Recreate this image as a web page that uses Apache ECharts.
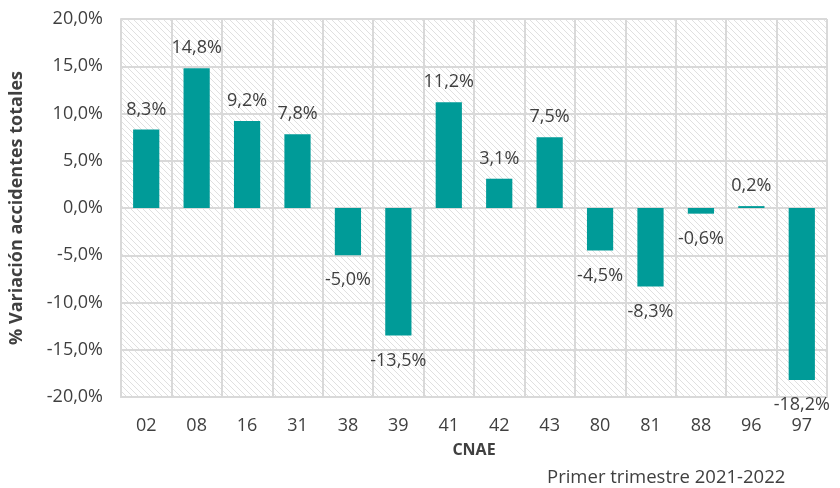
<!DOCTYPE html>
<html>
<head>
<meta charset="utf-8">
<script src="https://cdn.jsdelivr.net/npm/echarts@6/dist/echarts.min.js"></script>
<style>
  html, body { margin: 0; padding: 0; background: #fff; }
  #chart { width: 840px; height: 488px; }
</style>
</head>
<body>
<div id="chart"></div>
<script>
const categories = ['02', '08', '16', '31', '38', '39', '41', '42', '43', '80', '81', '88', '96', '97']
const variacion = [8.3, 14.8, 9.2, 7.8, -5.0, -13.5, 11.2, 3.1, 7.5, -4.5, -8.3, -0.6, 0.2, -18.2]
const yTicks = { min: -20, max: 20, interval: 5 }

const FONT = 'Open Sans'
const TEXT = '#404040'
const fmt = v => v.toFixed(1).replace('.', ',') + '%'

// hatched fill for the plot area
function hatch () {
  const n = 6
  const c = document.createElement('canvas')
  c.width = n
  c.height = n
  const ctx = c.getContext('2d')
  ctx.fillStyle = '#fff'
  ctx.fillRect(0, 0, n, n)
  ctx.strokeStyle = '#e0e0e0'
  ctx.lineWidth = 1
  ctx.beginPath()
  ctx.moveTo(-1, -1); ctx.lineTo(n + 1, n + 1)
  ctx.moveTo(-1, n - 1); ctx.lineTo(1, n + 1)
  ctx.moveTo(n - 1, -1); ctx.lineTo(n + 1, 1)
  ctx.stroke()
  return { image: c, repeat: 'repeat' }
}

const chart = echarts.init(document.getElementById('chart'))
chart.setOption({
  animation: false,
  textStyle: { fontFamily: FONT },
  graphic: [{
    type: 'text',
    x: 547,
    y: 478,
    style: {
      text: 'Primer trimestre 2021-2022',
      font: 'normal 18.5px "Open Sans"',
      fill: TEXT,
      verticalAlign: 'middle'
    }
  }],
  grid: {
    left: 119, right: 13, top: 19, bottom: 91,
    show: true,
    backgroundColor: hatch(),
    borderWidth: 0
  },
  xAxis: {
    type: 'category',
    data: categories,
    name: 'CNAE',
    nameLocation: 'middle',
    nameGap: 45,
    nameTextStyle: { fontFamily: FONT, fontSize: 16, fontWeight: 'bold', color: TEXT },
    axisLine: { onZero: false, lineStyle: { color: '#d9d9d9', width: 2 } },
    axisTick: { show: false },
    axisLabel: { fontFamily: FONT, fontSize: 18, color: TEXT, margin: 20 },
    splitLine: { show: true, lineStyle: { color: '#d9d9d9', width: 2 } }
  },
  yAxis: {
    type: 'value',
    min: yTicks.min,
    max: yTicks.max,
    interval: yTicks.interval,
    name: '% Variación accidentes totales',
    nameLocation: 'middle',
    nameGap: 95,
    nameTextStyle: { fontFamily: FONT, fontSize: 18, fontWeight: 'bold', color: TEXT },
    axisLine: { show: true, lineStyle: { color: '#d9d9d9', width: 2 } },
    axisTick: { show: false },
    axisLabel: { fontFamily: FONT, fontSize: 18, color: TEXT, margin: 18, formatter: fmt },
    splitLine: { show: true, lineStyle: { color: '#d9d9d9', width: 2 } }
  },
  series: [{
    type: 'bar',
    barWidth: '52%',
    itemStyle: { color: '#009b98' },
    data: variacion.map(v => ({
      value: v,
      label: {
        show: true,
        position: v >= 0 ? 'top' : 'bottom',
        distance: v >= 0 ? 11 : 16,
        formatter: p => fmt(p.value),
        fontFamily: FONT,
        fontSize: 18,
        color: TEXT
      }
    }))
  }]
})
</script>
</body>
</html>
